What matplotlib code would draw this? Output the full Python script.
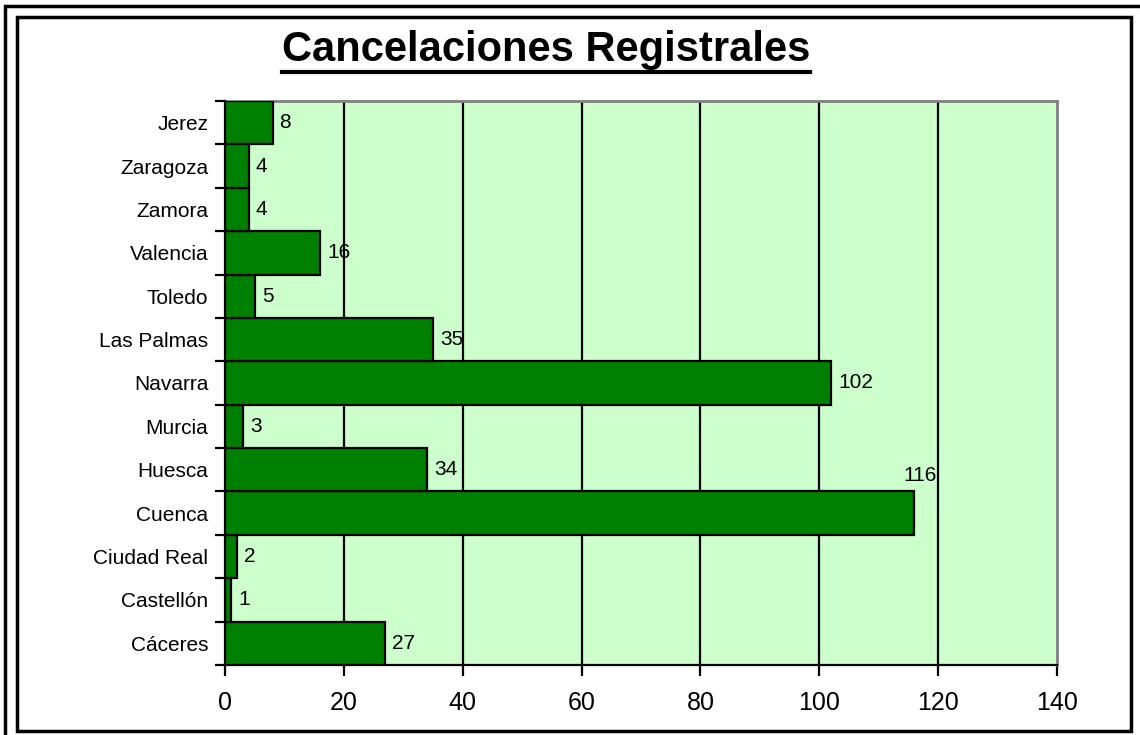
import numpy as np
import matplotlib
matplotlib.use('Agg')
import matplotlib.pyplot as plt
from matplotlib.patches import Rectangle
from matplotlib.lines import Line2D

plt.rcParams['font.family'] = ['Liberation Sans', 'DejaVu Sans']

provinces = ['Cáceres', 'Castellón', 'Ciudad Real', 'Cuenca', 'Huesca', 'Murcia',
             'Navarra', 'Las Palmas', 'Toledo', 'Valencia', 'Zamora', 'Zaragoza', 'Jerez']
cancellations = [27, 1, 2, 116, 34, 3, 102, 35, 5, 16, 4, 4, 8]
x_ticks = [0, 20, 40, 60, 80, 100, 120, 140]

W, H = 1140, 735
fig = plt.figure(figsize=(W / 100, H / 100), dpi=100)
ax = fig.add_axes([225 / W, 1 - 665 / H, (1057 - 225) / W, (665 - 101) / H])

pos = np.arange(len(provinces))
ax.set_facecolor('#ccffcc')
ax.barh(pos, cancellations, height=1.0, color='#008000', edgecolor='black',
        linewidth=1.6, zorder=3)

ax.set_xlim(0, 140)
ax.set_ylim(-0.5, len(provinces) - 0.5)
ax.set_xticks(x_ticks)
ax.set_xticklabels([str(t) for t in x_ticks], fontsize=18)
ax.tick_params(axis='x', direction='out', length=8, width=1.6, pad=11)

# category names at centres, tick marks at the boundaries
ax.set_yticks(pos)
ax.set_yticklabels(provinces, fontsize=15)
ax.tick_params(axis='y', length=0, pad=12)
ax.set_yticks(np.arange(-0.5, len(provinces)), minor=True)
ax.tick_params(axis='y', which='minor', direction='out', length=7, width=1.6)

for t in x_ticks[1:-1]:
    ax.axvline(t, color='black', linewidth=1.6, zorder=1)

for s in ['left', 'bottom']:
    ax.spines[s].set_color('black')
    ax.spines[s].set_linewidth(1.6)
for s in ['top', 'right']:
    ax.spines[s].set_color('#808080')
    ax.spines[s].set_linewidth(2)
ax.spines['left'].set_zorder(4)

for p, v in zip(pos, cancellations):
    if v == max(cancellations):
        ax.annotate(str(v), (v, p + 0.5), xytext=(-8, 5), textcoords='offset points',
                    ha='left', va='bottom', fontsize=15, zorder=5)
    else:
        ax.annotate(str(v), (v, p), xytext=(5, 0), textcoords='offset points',
                    ha='left', va='center', fontsize=15, zorder=5)

title = fig.text(546 / W, 1 - 50 / H, 'Cancelaciones Registrales', ha='center',
                 va='center', fontsize=30, fontweight='bold')

# frame lines around the chart
fig.patches.append(Rectangle((5 / W, -0.2), 1.5, 1 - 6 / H + 0.2, transform=fig.transFigure,
                             fill=False, edgecolor='black', linewidth=2.5))
fig.patches.append(Rectangle((17 / W, 1 - 731 / H), 1114 / W, 714 / H, transform=fig.transFigure,
                             fill=False, edgecolor='black', linewidth=2.5))

# underline the title
fig.canvas.draw()
bb = title.get_window_extent().transformed(fig.transFigure.inverted())
fig.lines.append(Line2D([bb.x0, bb.x1], [1 - 72 / H, 1 - 72 / H], transform=fig.transFigure,
                        color='black', linewidth=3))

fig.savefig('out.png', dpi=100)
